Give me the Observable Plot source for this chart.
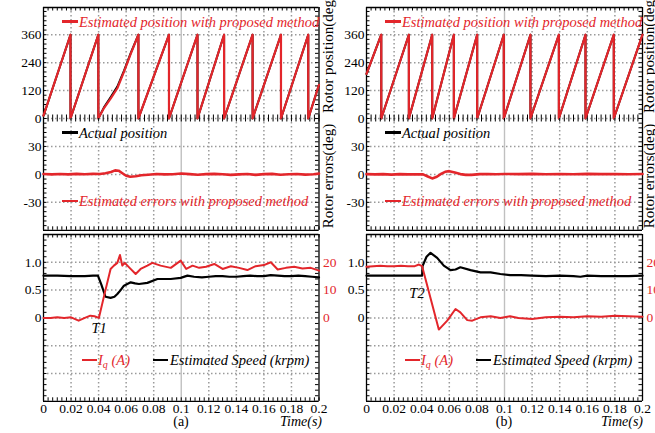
<!DOCTYPE html>
<html><head><meta charset="utf-8">
<script src="https://cdn.jsdelivr.net/npm/d3@7"></script>
<script src="https://cdn.jsdelivr.net/npm/@observablehq/plot@0.6"></script>
<style>
body{margin:0;background:#fff;}
#fig{position:relative;width:655px;height:433px;overflow:hidden;background:#fff;font-family:"Liberation Serif","Times New Roman",Times,"DejaVu Serif",serif;color:#000;}
#fig svg{position:absolute;}
.lg-line{position:absolute;height:2.8px;}
.lg-text{position:absolute;font-style:italic;font-size:14.5px;white-space:nowrap;line-height:16px;transform:translateY(-50%);}
.lg-text sub{font-size:10px;vertical-align:-3px;line-height:0;}
.lbl{position:absolute;font-size:14px;white-space:nowrap;line-height:16px;transform:translate(-50%,-50%);}
.ylab{position:absolute;font-size:15px;white-space:nowrap;line-height:16px;transform:translate(-50%,-50%) rotate(-90deg);}
</style>
</head><body>
<div id="fig"></div>
<script>
// ---------------- data ----------------
const RED = "#e3262b";
const IQ_SCALE = 20;           // 20 A on the red axis sits at 1.0 on the left axis

const timeTicks = [0, 0.02, 0.04, 0.06, 0.08, 0.1, 0.12, 0.14, 0.16, 0.18, 0.2];
const timeTickLabels = ["0", "0.02", "0.04", "0.06", "0.08", "0.1", "0.12", "0.14", "0.16", "0.18", "0.2"];
const posTicks = [0, 120, 240, 360];
const posTickLabels = ["0", "120", "240", "360"];
const errTicks = [-30, 0, 30];
const errTickLabels = ["-30", "0", "30"];
const lowTicks = [0, 0.5, 1.0];
const lowTickLabels = ["0", "0.5", "1.0"];
const iqTicks = [0, 10, 20];
const iqTickLabels = ["0", "10", "20"];

// (a) rotor position (deg)
const posA_t   = [0, 0.0196, 0.0196, 0.0398, 0.0398, 0.0439, 0.0487, 0.0536, 0.0584, 0.0633, 0.0689, 0.0689, 0.0911, 0.0911, 0.1118, 0.1118, 0.1311, 0.1311, 0.1518, 0.1518, 0.1724, 0.1724, 0.1922, 0.1922, 0.2];
const posA_est = [12, 360, 0, 360, 0, 45, 85, 130, 200, 278, 360, 0, 360, 0, 360, 0, 360, 0, 360, 0, 360, 0, 360, 0, 145];
const posA_act = [12, 360, 0, 360, 0, 48, 91, 137, 205, 281, 360, 0, 360, 0, 360, 0, 360, 0, 360, 0, 360, 0, 360, 0, 145];
// (b) rotor position (deg)
const posB_t   = [0, 0.0107, 0.0107, 0.0307, 0.0307, 0.0476, 0.0476, 0.0633, 0.0633, 0.0802, 0.0802, 0.0995, 0.0995, 0.1188, 0.1188, 0.1394, 0.1394, 0.1587, 0.1587, 0.1792, 0.1792, 0.2];
const posB_est = [192, 360, 0, 360, 0, 360, 0, 360, 0, 360, 0, 360, 0, 360, 0, 360, 0, 360, 0, 360, 0, 360];
const posB_act = [192, 360, 0, 360, 0, 360, 0, 360, 0, 360, 0, 360, 0, 360, 0, 360, 0, 360, 0, 360, 0, 360];

// (a) estimated position error (deg)
const errA_t = [0, 0.006, 0.012, 0.018, 0.024, 0.03, 0.036, 0.041, 0.045, 0.049, 0.052, 0.0545, 0.057, 0.06, 0.063, 0.067, 0.071, 0.076, 0.082, 0.088, 0.094, 0.1, 0.106, 0.112, 0.118, 0.124, 0.13, 0.136, 0.142, 0.148, 0.154, 0.16, 0.166, 0.172, 0.178, 0.184, 0.19, 0.196, 0.2];
const errA   = [0.5, 0, 0.5, 0, 0.6, 0.2, 0.6, 0.5, 1.2, 2.5, 4.3, 4.0, 1.5, -1.5, -2.5, -2.0, -1.0, -0.3, 0.5, 0, 0.2, 1.0, 0.3, -0.3, 0.3, 0.6, 0.2, -0.5, 0, 0.5, -0.5, 0.3, 0.6, -0.3, 0.2, 0.5, -0.2, 0.2, 0.8];
// (b) estimated position error (deg)
const errB_t = [0, 0.006, 0.012, 0.018, 0.024, 0.03, 0.036, 0.041, 0.044, 0.0476, 0.051, 0.054, 0.057, 0.06, 0.064, 0.068, 0.072, 0.076, 0.082, 0.088, 0.094, 0.1, 0.11, 0.12, 0.13, 0.14, 0.15, 0.16, 0.17, 0.18, 0.19, 0.2];
const errB   = [0.3, 0, 0.3, -0.2, 0.3, 0, 0.2, 0, -2.0, -4.3, -2.5, 0.5, 2.8, 3.5, 2.0, 0.3, -0.5, -0.5, 0.3, 0.5, 0.2, 0.5, 0.3, 0.6, 0.2, 0.5, 0.2, 0.6, 0.3, 0.5, 0.2, 0.5];

// (a) estimated speed and Iq (A)
const speedA_t = [0, 0.01, 0.02, 0.03, 0.036, 0.0395, 0.042, 0.045, 0.0487, 0.0515, 0.0536, 0.056, 0.0584, 0.0633, 0.0665, 0.0693, 0.0754, 0.0827, 0.0924, 0.0996, 0.1045, 0.1093, 0.115, 0.12, 0.125, 0.13, 0.135, 0.14, 0.145, 0.15, 0.155, 0.16, 0.165, 0.17, 0.175, 0.18, 0.185, 0.19, 0.195, 0.2];
const speedA   = [0.76, 0.76, 0.75, 0.75, 0.76, 0.76, 0.6, 0.38, 0.36, 0.38, 0.43, 0.5, 0.58, 0.64, 0.62, 0.61, 0.63, 0.70, 0.70, 0.72, 0.76, 0.74, 0.73, 0.74, 0.75, 0.75, 0.74, 0.74, 0.75, 0.76, 0.75, 0.75, 0.77, 0.76, 0.75, 0.75, 0.76, 0.75, 0.74, 0.73];
const iqA_t = [0, 0.005, 0.01, 0.015, 0.02, 0.0255, 0.03, 0.034, 0.037, 0.0402, 0.0445, 0.0487, 0.0511, 0.0536, 0.0555, 0.0572, 0.059, 0.0625, 0.0669, 0.0705, 0.0754, 0.079, 0.085, 0.0924, 0.0996, 0.1036, 0.1082, 0.113, 0.118, 0.124, 0.13, 0.136, 0.142, 0.148, 0.154, 0.16, 0.165, 0.17, 0.176, 0.182, 0.188, 0.194, 0.2];
const iqA   = [0, 0, 0.2, 0, 0.2, -1.0, 0, 0.8, 0.6, 0, 9, 17.6, 18.8, 19.8, 22.6, 18.8, 19.8, 18, 15.8, 17.6, 18.8, 19.8, 18.8, 18, 20.6, 17.6, 18.8, 18, 18.4, 19.4, 17.6, 18.6, 18, 17.2, 18.6, 19, 20, 17.4, 18, 18.4, 17.8, 18, 17];
// (b) estimated speed and Iq (A)
const speedB_t = [0, 0.01, 0.02, 0.03, 0.0403, 0.0406, 0.0435, 0.0464, 0.0512, 0.056, 0.0609, 0.0645, 0.068, 0.0754, 0.0826, 0.0899, 0.097, 0.104, 0.112, 0.12, 0.13, 0.14, 0.15, 0.155, 0.16, 0.17, 0.18, 0.19, 0.2];
const speedB   = [0.76, 0.76, 0.76, 0.76, 0.76, 0.93, 1.1, 1.17, 1.08, 0.94, 0.86, 0.87, 0.91, 0.86, 0.82, 0.82, 0.79, 0.77, 0.77, 0.76, 0.75, 0.76, 0.75, 0.74, 0.76, 0.75, 0.75, 0.75, 0.76];
const iqB_t = [0, 0.005, 0.01, 0.015, 0.02, 0.025, 0.03, 0.035, 0.038, 0.0403, 0.0524, 0.0585, 0.0645, 0.068, 0.073, 0.0766, 0.0826, 0.09, 0.097, 0.104, 0.11, 0.12, 0.13, 0.14, 0.15, 0.16, 0.17, 0.18, 0.19, 0.2];
const iqB   = [18.4, 18.6, 18.8, 18.6, 18.6, 18.8, 18.6, 18.6, 19.2, 18.6, -4.2, -1.0, 3.2, 2.0, -0.8, -1.0, 0.2, 0.6, 0, 0.6, 0, -0.4, 0.2, 0.4, 0.2, 0.6, 0.4, 0.8, 0.6, 0.4];

// ---------------- layout ----------------
const FONT = '"Liberation Serif", "Times New Roman", Times, "DejaVu Serif", serif';
const COLS = [{left: 43, right: 318.5}, {left: 366, right: 642}];
const ROWS = {
  top: {top: 6.5, bottom: 117.5, domain: [0, 477], ticks: posTicks, labels: posTickLabels, grid: [0, 120, 240, 360], minor: 20},
  mid: {top: 117.5, bottom: 229.3, domain: [-60, 60], ticks: errTicks, labels: errTickLabels, grid: [-30, 0, 30], minor: 5},
  low: {top: 233.6, bottom: 400.4, domain: [-1.5, 1.5], ticks: lowTicks, labels: lowTickLabels, grid: [-1, -0.5, 0, 0.5, 1], minor: 0.1}
};
const GRID = "#9a9a9a";
const fig = document.getElementById("fig");

function frameMarks(r, w, h, {topEdge, bottomEdge}) {
  const [y0, y1] = r.domain;
  const minorX = d3.range(0, 0.2 + 1e-9, 0.2 / 60);
  const minorY = d3.range(Math.ceil(y0 / r.minor) * r.minor, y1 + 1e-9, r.minor);
  const dotted = {stroke: GRID, strokeOpacity: 1, strokeWidth: 1.5, strokeDasharray: "1.5,2.5"};
  const tk = {stroke: "#000", strokeWidth: 1};
  const L = 3.5;
  const m = [
    Plot.gridX(timeTicks.filter(t => t > 0 && t < 0.2 && Math.abs(t - 0.1) > 1e-9), dotted),
    Plot.gridX([0.1], {stroke: "#c0c0c0", strokeOpacity: 1, strokeWidth: 1.4}),
    Plot.gridY(r.grid, dotted),
    Plot.tickY(minorY, {y: d => d, insetRight: w - L, ...tk}),
    Plot.tickY(minorY, {y: d => d, insetLeft: w - L, ...tk}),
    Plot.ruleX([0, 0.2], {stroke: "#000", strokeWidth: 1.3})
  ];
  m.push(Plot.tickX(minorX, {x: d => d, insetTop: h - L, ...tk}));
  m.push(Plot.tickX(minorX, {x: d => d, insetBottom: h - L, ...tk}));
  if (topEdge) m.push(Plot.ruleY([y1], {stroke: "#000", strokeWidth: 1.3}));
  if (bottomEdge) m.push(Plot.ruleY([y0], {stroke: "#000", strokeWidth: 1.3}));
  m.push(Plot.axisY(r.ticks, {anchor: "left", tickSize: 0, tickPadding: 2, label: null, fontFamily: FONT,
    tickFormat: d => r.labels[r.ticks.indexOf(d)]}));
  return m;
}

function panel(col, rowKey, edges, marks) {
  const c = COLS[col], r = ROWS[rowKey];
  const w = c.right - c.left, h = r.bottom - r.top;
  const svg = Plot.plot({
    width: w, height: h, margin: 0,
    style: {background: "transparent", overflow: "visible", fontFamily: FONT, fontSize: "13.5px", color: "#000"},
    x: {domain: [0, 0.2], axis: null},
    y: {domain: r.domain, axis: null},
    marks: [...frameMarks(r, w, h, edges), ...marks]
  });
  svg.style.left = c.left + "px";
  svg.style.top = r.top + "px";
  fig.appendChild(svg);
}

const lowExtra = () => [
  Plot.axisX(timeTicks, {anchor: "bottom", tickSize: 0, tickPadding: 2, label: null, fontFamily: FONT,
    tickFormat: d => timeTickLabels[timeTicks.indexOf(d)]}),
  Plot.axisY(iqTicks.map(v => v / IQ_SCALE), {anchor: "right", tickSize: 0, tickPadding: 4, label: null, color: RED, fill: RED, fontFamily: FONT,
    tickFormat: d => iqTickLabels[iqTicks.indexOf(Math.round(d * IQ_SCALE))]})
];

// (a) column
panel(0, "top", {topEdge: true, bottomEdge: false}, [
  Plot.line(posA_act, {x: posA_t, y: posA_act, stroke: "#000", strokeWidth: 2}),
  Plot.line(posA_est, {x: posA_t, y: posA_est, stroke: RED, strokeWidth: 2.2})
]);
panel(0, "mid", {topEdge: false, bottomEdge: true}, [
  Plot.line(errA, {x: errA_t, y: errA, stroke: RED, strokeWidth: 2.6})
]);
panel(0, "low", {topEdge: true, bottomEdge: true}, [
  ...lowExtra(),
  Plot.line(speedA, {x: speedA_t, y: speedA, stroke: "#000", strokeWidth: 2.2}),
  Plot.line(iqA, {x: iqA_t, y: iqA.map(v => v / IQ_SCALE), stroke: RED, strokeWidth: 2}),
  Plot.text(["T1"], {x: [0.0404], y: [-0.19], fontStyle: "italic", fontSize: 14.5, fontFamily: FONT, fill: "#000"})
]);
// (b) column
panel(1, "top", {topEdge: true, bottomEdge: false}, [
  Plot.line(posB_act, {x: posB_t, y: posB_act, stroke: "#000", strokeWidth: 2}),
  Plot.line(posB_est, {x: posB_t, y: posB_est, stroke: RED, strokeWidth: 2.2})
]);
panel(1, "mid", {topEdge: false, bottomEdge: true}, [
  Plot.line(errB, {x: errB_t, y: errB, stroke: RED, strokeWidth: 2.6})
]);
panel(1, "low", {topEdge: true, bottomEdge: true}, [
  ...lowExtra(),
  Plot.line(speedB, {x: speedB_t, y: speedB, stroke: "#000", strokeWidth: 2.2}),
  Plot.line(iqB, {x: iqB_t, y: iqB.map(v => v / IQ_SCALE), stroke: RED, strokeWidth: 2}),
  Plot.text(["T2"], {x: [0.0366], y: [0.45], fontStyle: "italic", fontSize: 14.5, fontFamily: FONT, fill: "#000"})
]);

// ---------------- legends & labels (HTML) ----------------
function legend(x1, x2, tx, y, color, html) {
  const ln = document.createElement("div");
  ln.className = "lg-line";
  ln.style.left = x1 + "px"; ln.style.width = (x2 - x1) + "px"; ln.style.top = (y - 1.4) + "px"; ln.style.background = color;
  fig.appendChild(ln);
  const t = document.createElement("div");
  t.className = "lg-text";
  t.style.left = tx + "px"; t.style.top = y + "px"; t.style.color = color;
  t.innerHTML = html;
  fig.appendChild(t);
}
function label(cls, x, y, text, extra) {
  const d = document.createElement("div");
  d.className = cls;
  d.style.left = x + "px"; d.style.top = y + "px";
  if (extra) Object.assign(d.style, extra);
  d.textContent = text;
  fig.appendChild(d);
}
for (const dx of [0, 323]) {
  legend(62 + dx, 78 + dx, 79 + dx, 21.7, RED, "Estimated position with proposed method");
  legend(62 + dx, 78 + dx, 79 + dx, 132.7, "#000", "Actual position");
  legend(62 + dx, 78 + dx, 79 + dx, 201, RED, "Estimated errors with proposed method");
  legend(82 + dx, 97 + dx, 98 + dx, 360, RED, "I<sub>q</sub> (A)");
  legend(153 + dx, 168 + dx, 170 + dx, 360, "#000", "Estimated Speed (krpm)");
}
label("lbl", 181, 422, "(a)");
label("lbl", 301, 422, "Time(s)", {fontStyle: "italic"});
label("lbl", 504, 422, "(b)");
label("lbl", 622, 422, "Time(s)", {fontStyle: "italic"});
for (const x of [328, 649]) {
  label("ylab", x, 54, "Rotor position(deg)");
  label("ylab", x, 176, "Rotor errors(deg)");
}
</script>
</body></html>
